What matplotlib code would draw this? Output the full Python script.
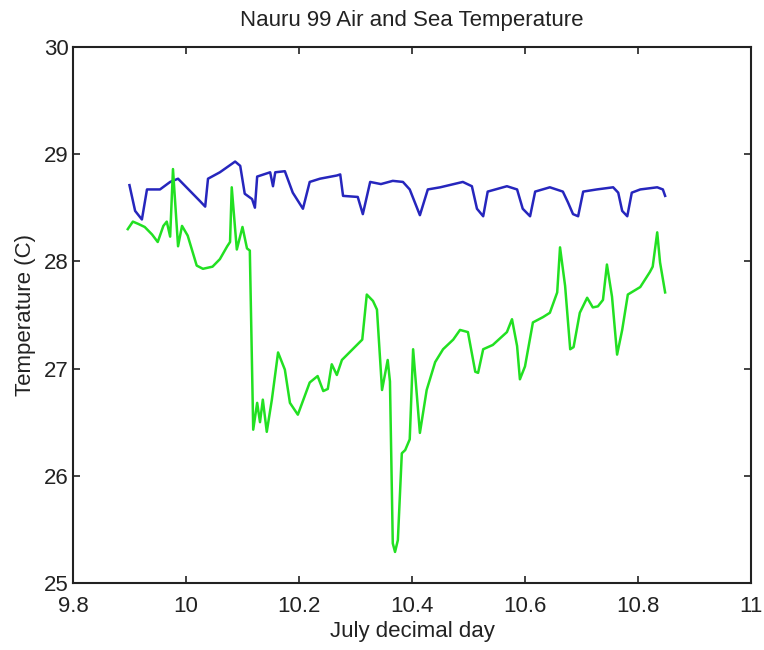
import matplotlib
matplotlib.use('Agg')
import matplotlib.pyplot as plt

# sea temperature (blue)
sea_day = [9.900, 9.910, 9.922, 9.931, 9.954, 9.972, 9.986, 10.025, 10.034, 10.039,
           10.060, 10.087, 10.096, 10.104, 10.117, 10.122, 10.126, 10.149, 10.154, 10.158,
           10.175, 10.189, 10.207, 10.219, 10.237, 10.267, 10.273, 10.278, 10.304, 10.313,
           10.326, 10.345, 10.366, 10.384, 10.396, 10.414, 10.428, 10.450, 10.490, 10.506,
           10.515, 10.526, 10.534, 10.568, 10.586, 10.596, 10.609, 10.618, 10.644, 10.667,
           10.676, 10.685, 10.694, 10.703, 10.727, 10.756, 10.765, 10.772, 10.781, 10.789,
           10.804, 10.834, 10.844, 10.848]
sea_temp = [28.71, 28.47, 28.39, 28.67, 28.67, 28.74, 28.77, 28.56, 28.51, 28.77,
            28.83, 28.93, 28.89, 28.63, 28.58, 28.50, 28.79, 28.83, 28.70, 28.83,
            28.84, 28.64, 28.49, 28.74, 28.77, 28.80, 28.81, 28.61, 28.60, 28.44,
            28.74, 28.72, 28.75, 28.74, 28.67, 28.43, 28.67, 28.69, 28.74, 28.70,
            28.49, 28.42, 28.65, 28.70, 28.67, 28.49, 28.42, 28.65, 28.69, 28.65,
            28.55, 28.44, 28.42, 28.65, 28.67, 28.69, 28.64, 28.47, 28.42, 28.64,
            28.67, 28.69, 28.67, 28.61]

# air temperature (green)
air_day = [9.897, 9.906, 9.915, 9.927, 9.940, 9.950, 9.960, 9.966, 9.972, 9.977,
           9.986, 9.993, 10.003, 10.019, 10.030, 10.047, 10.060, 10.073, 10.078, 10.081,
           10.087, 10.090, 10.100, 10.108, 10.113, 10.119, 10.126, 10.131, 10.136, 10.143,
           10.152, 10.163, 10.175, 10.184, 10.198, 10.219, 10.233, 10.243, 10.251, 10.258,
           10.267, 10.276, 10.312, 10.320, 10.331, 10.338, 10.347, 10.357, 10.361, 10.366,
           10.370, 10.375, 10.382, 10.388, 10.396, 10.402, 10.414, 10.426, 10.441, 10.455,
           10.473, 10.485, 10.499, 10.512, 10.517, 10.526, 10.543, 10.568, 10.577, 10.586,
           10.591, 10.600, 10.614, 10.632, 10.644, 10.657, 10.662, 10.671, 10.680, 10.686,
           10.697, 10.710, 10.720, 10.729, 10.738, 10.745, 10.754, 10.763, 10.772, 10.782,
           10.804, 10.821, 10.826, 10.834, 10.839, 10.848]
air_temp = [28.30, 28.37, 28.35, 28.32, 28.25, 28.18, 28.33, 28.37, 28.23, 28.86,
            28.14, 28.33, 28.24, 27.96, 27.93, 27.95, 28.02, 28.14, 28.18, 28.69,
            28.30, 28.11, 28.32, 28.12, 28.10, 26.43, 26.68, 26.50, 26.71, 26.41,
            26.71, 27.15, 26.99, 26.68, 26.57, 26.87, 26.93, 26.79, 26.81, 27.04,
            26.94, 27.08, 27.27, 27.69, 27.63, 27.55, 26.80, 27.08, 26.88, 25.37,
            25.29, 25.40, 26.21, 26.24, 26.34, 27.18, 26.40, 26.80, 27.06, 27.18,
            27.27, 27.36, 27.34, 26.97, 26.96, 27.18, 27.22, 27.34, 27.46, 27.21,
            26.90, 27.02, 27.43, 27.48, 27.52, 27.71, 28.13, 27.77, 27.18, 27.20,
            27.52, 27.66, 27.57, 27.58, 27.64, 27.97, 27.67, 27.13, 27.36, 27.69,
            27.76, 27.90, 27.95, 28.27, 27.99, 27.71]

plt.rcParams['font.family'] = ['Liberation Sans', 'DejaVu Sans']

fig = plt.figure(figsize=(7.64, 6.5), dpi=100)
ax = fig.add_axes([0.0955, 0.103, 0.8875, 0.825])

ax.plot(sea_day, sea_temp, color='#2626bd', linewidth=1.8)
ax.plot(air_day, air_temp, color='#22e022', linewidth=1.8)

ax.set_xlim(9.8, 11)
ax.set_ylim(25, 30)
ax.set_xticks([9.8, 10, 10.2, 10.4, 10.6, 10.8, 11])
ax.set_xticklabels(['9.8', '10', '10.2', '10.4', '10.6', '10.8', '11'])
ax.set_yticks([25, 26, 27, 28, 29, 30])
ax.tick_params(direction='in', top=True, right=True, length=5, width=1.2,
               labelsize=16, colors='#222222')
ax.tick_params(axis='x', pad=9)
ax.tick_params(axis='y', pad=3)
for s in ax.spines.values():
    s.set_linewidth(1.5)
    s.set_color('#222222')

ax.set_title('Nauru 99 Air and Sea Temperature', fontsize=16, color='#222222', pad=15)
ax.set_xlabel('July decimal day', fontsize=16, color='#222222', labelpad=3)
ax.set_ylabel('Temperature (C)', fontsize=16, color='#222222', labelpad=6)

fig.savefig('out.png', dpi=100)
